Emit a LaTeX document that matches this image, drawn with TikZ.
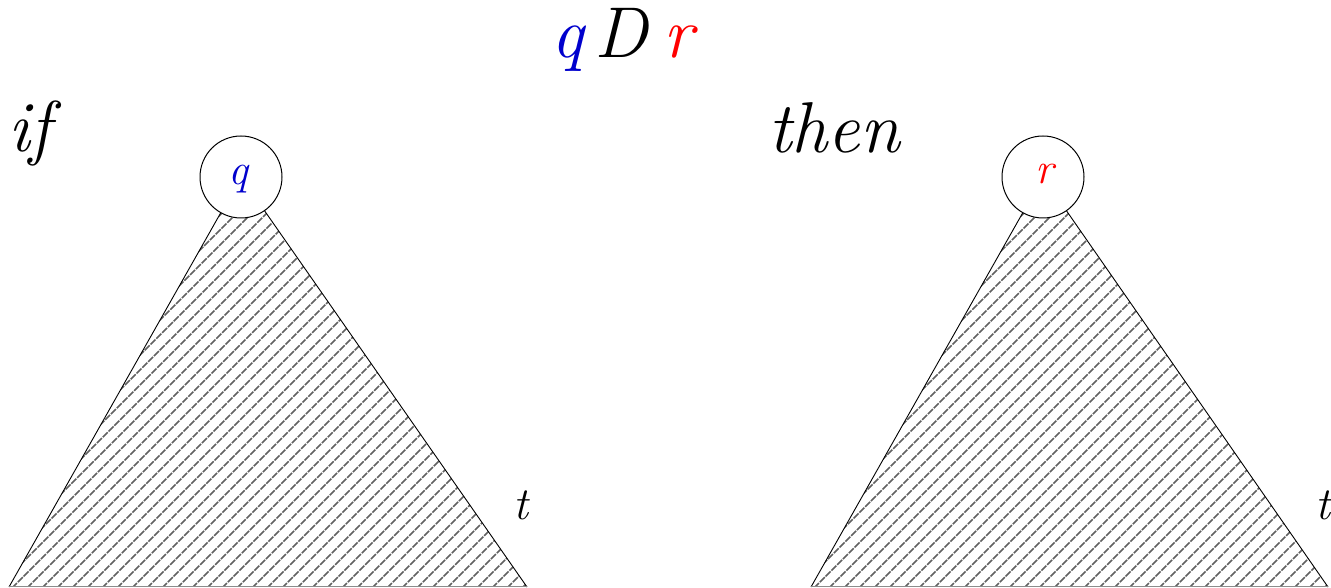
\documentclass[tikz,border=0pt]{standalone}
\definecolor{qblue}{RGB}{0,0,205}
\definecolor{rred}{RGB}{255,0,0}
\begin{document}
\begin{tikzpicture}[x=1pt,y=1pt,
  hatch/.style={draw=black!62,line width=1.5pt,dash pattern=on 7pt off 1.2pt},
  edge/.style={draw=black,line width=0.9pt},
  rootnode/.style={circle,draw=black,fill=white,line width=1pt,minimum size=82pt,inner sep=0pt},
  bigtxt/.style={inner sep=0pt,anchor=base west,font=\fontsize{72}{72}\selectfont\itshape},
  smalltxt/.style={inner sep=0pt,anchor=base west,font=\fontsize{46}{46}\selectfont\itshape},
  lbltxt/.style={inner sep=0pt,anchor=base,font=\fontsize{44}{44}\selectfont\itshape}]
\useasboundingbox (0,0) rectangle (1331,588);
\clip (0,0) rectangle (1331,588);
% left tree
\coordinate (lapex) at (241,411);
\coordinate (lbl) at (9,1);
\coordinate (lbr) at (527,1);
\begin{scope}
  \clip (lapex) -- (lbl) -- (lbr) -- cycle;
  \foreach \s in {-408,-393,...,540} \draw[hatch] (\s,0) -- ++(420,420);
\end{scope}
\draw[edge] (lbl) -- (lapex) -- (lbr);
\draw[draw=black!45,line width=1pt] (lbl) -- (lbr);
\node[rootnode] (lroot) at (lapex) {};
\node[lbltxt,text=qblue] (lq) at (238,403) {q};
% right tree
\coordinate (rapex) at (1043,411);
\coordinate (rbl) at (811,1);
\coordinate (rbr) at (1328,1);
\begin{scope}
  \clip (rapex) -- (rbl) -- (rbr) -- cycle;
  \foreach \s in {394,409,...,1344} \draw[hatch] (\s,0) -- ++(420,420);
\end{scope}
\draw[edge] (rbl) -- (rapex) -- (rbr);
\draw[draw=black!45,line width=1pt] (rbl) -- (rbr);
\node[rootnode] (rroot) at (rapex) {};
\node[lbltxt,text=rred] (rr) at (1045,404) {r};
% texts
\node[bigtxt,text=qblue] (tq) at (551,530) {q};
\node[bigtxt] (tD) at (594,530) {D};
\node[bigtxt,text=rred] (tr) at (663,530) {r};
\node[bigtxt] (tif) at (8,436) {if};
\node[bigtxt] (tthen) at (768,435) {then};
\node[smalltxt] (tl) at (513,68) {t};
\node[smalltxt] (tr2) at (1315,68) {t};
\end{tikzpicture}
\end{document}
